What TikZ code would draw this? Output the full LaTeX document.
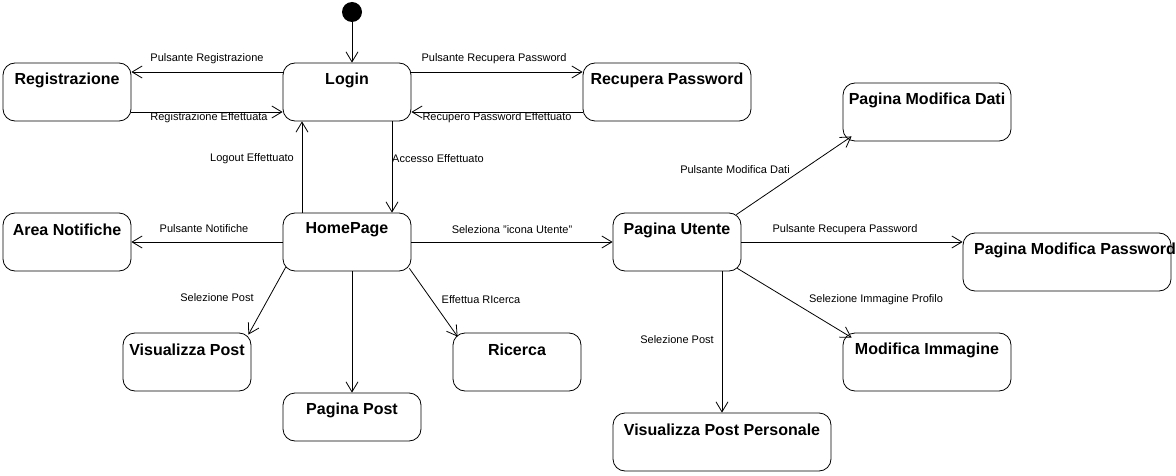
\documentclass[tikz,border=0pt]{standalone}
\usepackage{fontspec}
\setmainfont{Liberation Sans}
\usetikzlibrary{arrows.meta}
\newcommand\stbox[6]{%
  \node[state, minimum width={#4pt-#2pt}, minimum height={#5pt-#3pt}] (#1) at ({(#2+#4)/2},{(#3+#5)/2}) {};
  \node[ttl] (#1-t) at ({(#2+#4)/2},{#3+17}) {#6};}
\begin{document}
\begin{tikzpicture}[x=1pt,y=-1pt,
  state/.style={draw, rounded corners=12pt, line width=0.8pt, inner sep=0pt},
  ttl/.style={font=\fontsize{16}{19}\selectfont\bfseries, inner sep=0pt, anchor=center},
  lbl/.style={font=\fontsize{11}{13}\selectfont, inner sep=0pt},
  tr/.style={draw, line width=0.8pt, -{Straight Barb[length=10pt,width=12pt,line width=0.8pt]}}
]
\useasboundingbox (0,0) rectangle (1176,476);
\node[circle, fill=black, minimum size=20pt, inner sep=0pt] (init) at (352,12) {};
\stbox{reg}{3}{63}{131}{121}{Registrazione}
\stbox{login}{283}{63}{411}{121}{Login}
\stbox{recp}{583}{63}{751}{121}{Recupera Password}
\stbox{pmd}{843}{83}{1011}{141}{Pagina Modifica Dati}
\stbox{area}{3}{213}{131}{271}{Area Notifiche}
\stbox{home}{283}{213}{411}{271}{HomePage}
\stbox{utente}{613}{213}{741}{271}{Pagina Utente}
\node[state, minimum width=208pt, minimum height=58pt] (pmp) at (1067,262) {};
\node[ttl] (pmp-t) at (1075,250) {Pagina Modifica Password};
\stbox{vp}{123}{333}{251}{391}{Visualizza Post}
\stbox{ric}{453}{333}{581}{391}{Ricerca}
\stbox{mi}{843}{333}{1011}{391}{Modifica Immagine}
\stbox{pp}{283}{393}{421}{441}{Pagina Post}
\stbox{vpp}{613}{413}{831}{471}{Visualizza Post Personale}

\draw[tr] (init) -- (init |- login.north);
\draw[tr] ([yshift=20pt]login.west) -- ([yshift=20pt]reg.east)
  node[lbl, at={(207,59)}] {Pulsante Registrazione};
\draw[tr] ([yshift=-20pt]reg.east) -- ([yshift=-20pt]login.west)
  node[lbl, at={(209,118)}] {Registrazione Effettuata};
\draw[tr] ([yshift=20pt]login.east) -- ([yshift=20pt]recp.west)
  node[lbl, at={(494,59)}] {Pulsante Recupera Password};
\draw[tr] ([yshift=-20pt]recp.west) -- ([yshift=-20pt]login.east)
  node[lbl, at={(497,118)}] {Recupero Password Effettuato};
\draw[tr] ([xshift=-45pt]home.north) -- ([xshift=-45pt]login.south)
  node[lbl, at={(252,159)}] {Logout Effettuato};
\draw[tr] ([xshift=45pt]login.south) -- ([xshift=45pt]home.north)
  node[lbl, at={(438,159)}] {Accesso Effettuato};
\draw[tr] (home.west) -- (area.east)
  node[lbl, at={(204,229)}] {Pulsante Notifiche};
\draw[tr] (home.east) -- (utente.west)
  node[lbl, at={(512,230)}] {Seleziona "icona Utente"};
\draw[tr] ([shift={(3,-4)}]home.south west) -- ([shift={(-3,2)}]vp.north east)
  node[lbl, at={(217,298)}] {Selezione Post};
\draw[tr] (pp.north |- home.south) -- (pp.north);
\draw[tr] ([shift={(-2,-3)}]home.south east) -- ([shift={(5,4)}]ric.north west)
  node[lbl, at={(481,300)}] {Effettua RIcerca};
\draw[tr] ([shift={(-5,2)}]utente.north east) -- ([shift={(9,-5)}]pmd.south west)
  node[lbl, at={(735,170)}] {Pulsante Modifica Dati};
\draw[tr] (utente.east) -- (utente.east -| pmp.west)
  node[lbl, at={(845,230)}] {Pulsante Recupera Password};
\draw[tr] ([shift={(-4,-3)}]utente.south east) -- ([shift={(9,5)}]mi.north west)
  node[lbl, at={(876,300)}] {Selezione Immagine Profilo};
\draw[tr] (vpp.north |- utente.south) -- (vpp.north)
  node[lbl, at={(677,340)}] {Selezione Post};
\end{tikzpicture}
\end{document}
